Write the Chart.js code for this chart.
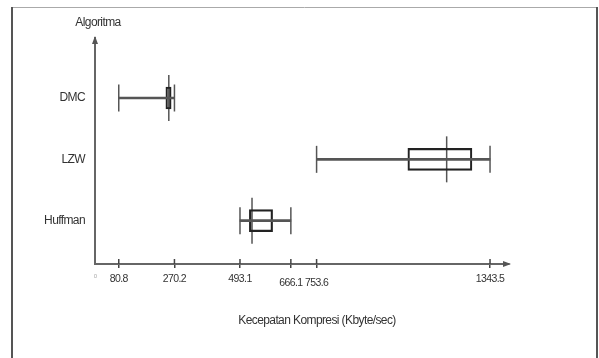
<!DOCTYPE html>
<html lang="id">
<head>
    <meta charset="UTF-8">
    <title>Kecepatan Kompresi</title>
    <script src="https://cdn.jsdelivr.net/npm/chart.js"></script>
    <style>
        html, body { margin: 0; padding: 0; background: #fff; }
    </style>
</head>
<body>

    <canvas id="boxChart" width="599" height="358"></canvas>

    <script>
        // data
        const algos = ["DMC", "LZW", "Huffman"];
        const minVals = [80.8, 753.6, 493.1];
        const q1Vals = [241, 1064, 525];
        const medianVals = [251, 1196, 534];
        const q3Vals = [259, 1282, 604];
        const maxVals = [270.2, 1343.5, 666.1];
        const xTicks = [0, 80.8, 270.2, 493.1, 666.1, 753.6, 1343.5];

        // narrow face if there is one, plain Liberation Sans otherwise
        const FONT = "'Liberation Sans Narrow', 'Liberation Sans', sans-serif";
        const STRETCH = "condensed";

        // DMC on top, Huffman at the bottom
        const pos = i => algos.length - i;
        const isZero = ctx => !!(ctx && ctx.tick && ctx.tick.value === 0);
        // the two crowded labels sit a bit lower, as in the original
        const isLow = ctx => !!(ctx && ctx.tick && (ctx.tick.value === 666.1 || ctx.tick.value === 753.6));

        const whiskers = algos.map((a, i) => ({ y: pos(i), x: [minVals[i], maxVals[i]] }));
        const boxes = algos.map((a, i) => ({ y: pos(i), x: [q1Vals[i], q3Vals[i]] }));
        const caps = [];
        algos.forEach((a, i) => {
            caps.push({ x: minVals[i], y: pos(i) });
            caps.push({ x: maxVals[i], y: pos(i) });
        });
        const medians = algos.map((a, i) => ({ x: medianVals[i], y: pos(i) }));

        // frame, titles, arrows and the upper half of the tick marks
        const decor = {
            id: "decor",
            beforeDraw(chart) {
                const c = chart.ctx;
                c.letterSpacing = "-0.6px";   // text in the original is very narrow
                c.save();
                c.fillStyle = "#fff";
                c.fillRect(0, 0, chart.width, chart.height);
                c.strokeStyle = "#aaa";
                c.lineWidth = 1;
                c.beginPath();
                c.moveTo(11, 7.5);
                c.lineTo(598, 7.5);
                c.stroke();
                c.strokeStyle = "#555";
                c.lineWidth = 2;
                c.beginPath();
                c.moveTo(12, 7);
                c.lineTo(12, chart.height);
                c.moveTo(597, 7);
                c.lineTo(597, chart.height);
                c.stroke();
                c.restore();
            },
            afterDraw(chart) {
                const c = chart.ctx;
                const a = chart.chartArea;
                const xs = chart.scales.x;
                c.save();
                c.fillStyle = "#555";
                // arrow heads
                c.beginPath();
                c.moveTo(a.left, a.top - 2);
                c.lineTo(a.left - 3, a.top + 6);
                c.lineTo(a.left + 3, a.top + 6);
                c.closePath();
                c.fill();
                c.beginPath();
                c.moveTo(a.right + 2, a.bottom);
                c.lineTo(a.right - 6, a.bottom - 3);
                c.lineTo(a.right - 6, a.bottom + 3);
                c.closePath();
                c.fill();
                // ticks cross the axis
                c.strokeStyle = "#444";
                c.lineWidth = 1.5;
                c.beginPath();
                xTicks.forEach(v => {
                    if (v === 0) return;
                    const px = xs.getPixelForValue(v);
                    c.moveTo(px, a.bottom - 5);
                    c.lineTo(px, a.bottom);
                });
                c.stroke();
                // axis titles
                c.fillStyle = "#333";
                c.textAlign = "center";
                c.textBaseline = "middle";
                c.font = STRETCH + " 12px " + FONT;
                c.fillText("Algoritma", a.left + 3, 23);
                c.fillText("Kecepatan Kompresi (Kbyte/sec)", 317, 321);
                c.restore();
            }
        };

        new Chart(document.getElementById("boxChart"), {
            type: "bar",
            data: {
                datasets: [
                    {
                        label: "whisker",
                        indexAxis: "y",
                        data: whiskers,
                        backgroundColor: "#555",
                        borderWidth: 0,
                        barThickness: 2,
                        grouped: false
                    },
                    {
                        label: "box",
                        indexAxis: "y",
                        data: boxes,
                        backgroundColor: "rgba(0,0,0,0)",
                        borderColor: "#222",
                        borderWidth: 1.5,
                        borderSkipped: false,
                        barThickness: 22,
                        grouped: false
                    },
                    {
                        label: "caps",
                        type: "scatter",
                        data: caps,
                        pointStyle: "line",
                        rotation: 90,
                        pointRadius: 13.5,
                        pointBorderWidth: 1.5,
                        pointBorderColor: "#555",
                        showLine: false
                    },
                    {
                        label: "median",
                        type: "scatter",
                        data: medians,
                        pointStyle: "line",
                        rotation: 90,
                        pointRadius: 23,
                        pointBorderWidth: 1.5,
                        pointBorderColor: "#555",
                        showLine: false
                    }
                ]
            },
            options: {
                responsive: false,
                animation: false,
                layout: { padding: { left: 0, top: 38, right: 90, bottom: 0 } },
                plugins: {
                    legend: { display: false },
                    tooltip: { enabled: false }
                },
                scales: {
                    x: {
                        type: "linear",
                        position: "bottom",
                        offset: false,
                        min: 0,
                        max: 1408,
                        afterBuildTicks: s => { s.ticks = xTicks.map(v => ({ value: v })); },
                        afterFit: s => { s.height = 94; },
                        grid: {
                            offset: false,
                            drawOnChartArea: false,
                            drawTicks: true,
                            tickLength: 4,
                            lineWidth: 1.5,
                            color: ctx => isZero(ctx) ? "rgba(0,0,0,0)" : "#444"
                        },
                        border: { display: true, color: "#666", width: 2 },
                        ticks: {
                            autoSkip: false,
                            maxRotation: 0,
                            padding: 5,
                            callback: v => String(v),
                            color: ctx => isZero(ctx) ? "#aaa" : "#333",
                            font: ctx => ({
                                family: FONT,
                                weight: STRETCH,
                                size: isZero(ctx) ? 6 : 10.5,
                                lineHeight: isLow(ctx) ? 2.0 : 1.2
                            })
                        }
                    },
                    y: {
                        type: "linear",
                        position: "left",
                        offset: false,
                        min: 0.294,
                        max: 3.978,
                        afterBuildTicks: s => { s.ticks = algos.map((a, i) => ({ value: pos(i) })); },
                        afterFit: s => { s.width = 95; },
                        grid: { display: false, drawTicks: false, offset: false },
                        border: { display: true, color: "#666", width: 2 },
                        ticks: {
                            padding: 10,
                            callback: v => algos[algos.length - v],
                            color: "#333",
                            font: { family: FONT, weight: STRETCH, size: 12 }
                        }
                    }
                }
            },
            plugins: [decor]
        });
    </script>

</body>
</html>
